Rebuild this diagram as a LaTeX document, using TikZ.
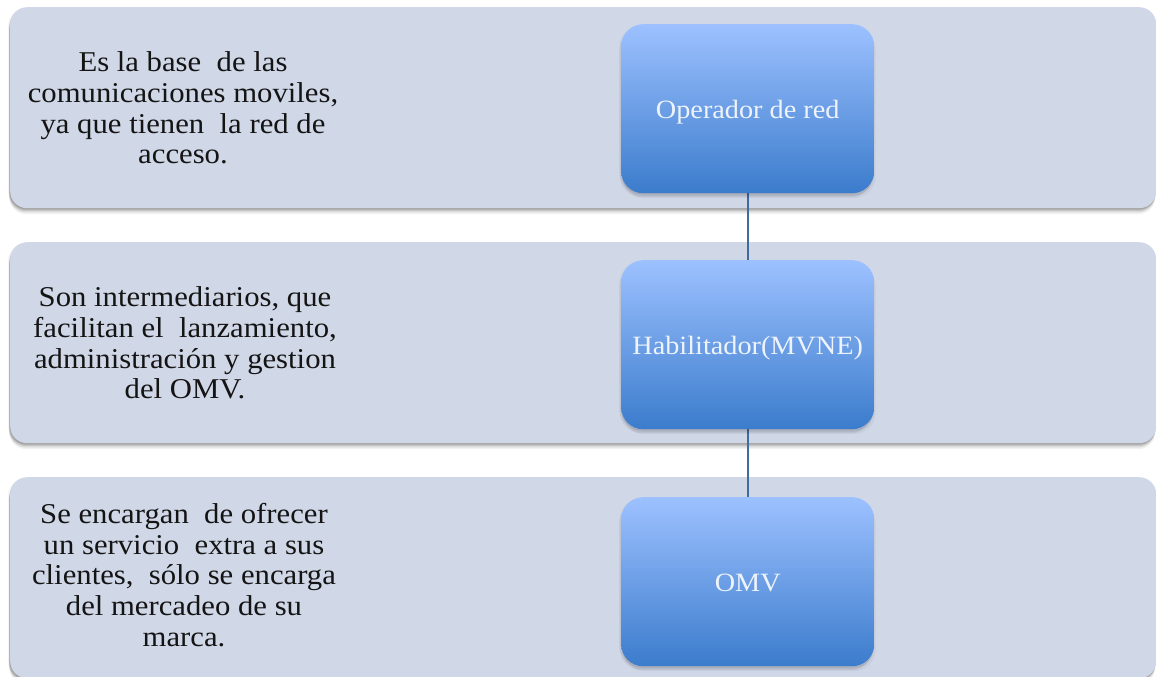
\documentclass[tikz,border=0pt]{standalone}
\usepackage{fontspec}
\setmainfont[FakeStretch=1.07]{Liberation Serif}
\tikzset{
  softshadow/.style={
    preaction={fill=black,fill opacity=0.04,transform canvas={xshift=-2pt,yshift=-1pt}},
    preaction={fill=black,fill opacity=0.05,transform canvas={xshift=-1pt,yshift=-6pt}},
    preaction={fill=black,fill opacity=0.08,transform canvas={xshift=-1pt,yshift=-4.5pt}},
    preaction={fill=black,fill opacity=0.12,transform canvas={xshift=-1pt,yshift=-3pt}},
    preaction={fill=black,fill opacity=0.14,transform canvas={xshift=-0.5pt,yshift=-1.5pt}}},
  boxshadow/.style={
    preaction={fill=black,fill opacity=0.03,transform canvas={xshift=-2pt,yshift=-1pt}},
    preaction={fill=black,fill opacity=0.04,transform canvas={xshift=1.5pt,yshift=-5pt}},
    preaction={fill=black,fill opacity=0.06,transform canvas={xshift=-1.5pt,yshift=-4pt}},
    preaction={fill=black,fill opacity=0.08,transform canvas={xshift=0pt,yshift=-2.5pt}}},
  band/.style={softshadow,rectangle,rounded corners=17pt,fill=bandc,minimum width=1146pt,minimum height=201pt,inner sep=0pt,anchor=north west},
  bluebox/.style={boxshadow,rectangle,rounded corners=22pt,top color=boxtop,bottom color=boxbot,minimum width=253pt,minimum height=169pt,inner sep=0pt,anchor=north west,text=boxtext,text height=24pt,text depth=4pt,font=\fontsize{26.4pt}{30pt}\selectfont},
  desc/.style={align=center,text=black!92,font=\fontsize{28.7pt}{30.8pt}\selectfont,inner sep=0pt},
  link/.style={draw=linkc,line width=1.5pt}
}
\definecolor{bandc}{HTML}{D0D7E7}
\definecolor{boxtop}{HTML}{9DC1FF}
\definecolor{boxbot}{HTML}{3B7CCC}
\definecolor{boxtext}{HTML}{EEF3FB}
\definecolor{linkc}{HTML}{3F6C9F}
\begin{document}
\begin{tikzpicture}[x=1pt,y=-1pt]
\useasboundingbox (0,0) rectangle (1156,677);
\clip (0,0) rectangle (1156,677);
\node[band] (b1) at (10,7) {};
\node[band] (b2) at (10,242) {};
\node[band] (b3) at (10,477) {};
\node[desc] (t1) at (183,108) {Es la base\ \ de las\\comunicaciones moviles,\\ya que tienen\ \ la red de\\acceso.};
\node[desc] (t2) at (185,343) {Son intermediarios, que\\facilitan el\ \ lanzamiento,\\administración y gestion\\del OMV.};
\node[desc] (t3) at (184,575) {Se encargan\ \ de ofrecer\\un servicio\ \ extra a sus\\clientes,\ \ sólo se encarga\\del mercadeo de su\\marca.};
\coordinate (c1) at (748,100);
\coordinate (c2) at (748,340);
\coordinate (c3) at (748,580);
\draw[link] (c1) -- (c2) -- (c3);
\node[bluebox] (op) at (621,24) {Operador de red};
\node[bluebox] (hab) at (621,260) {Habilitador(MVNE)};
\node[bluebox] (omv) at (621,497) {OMV};
\end{tikzpicture}
\end{document}
